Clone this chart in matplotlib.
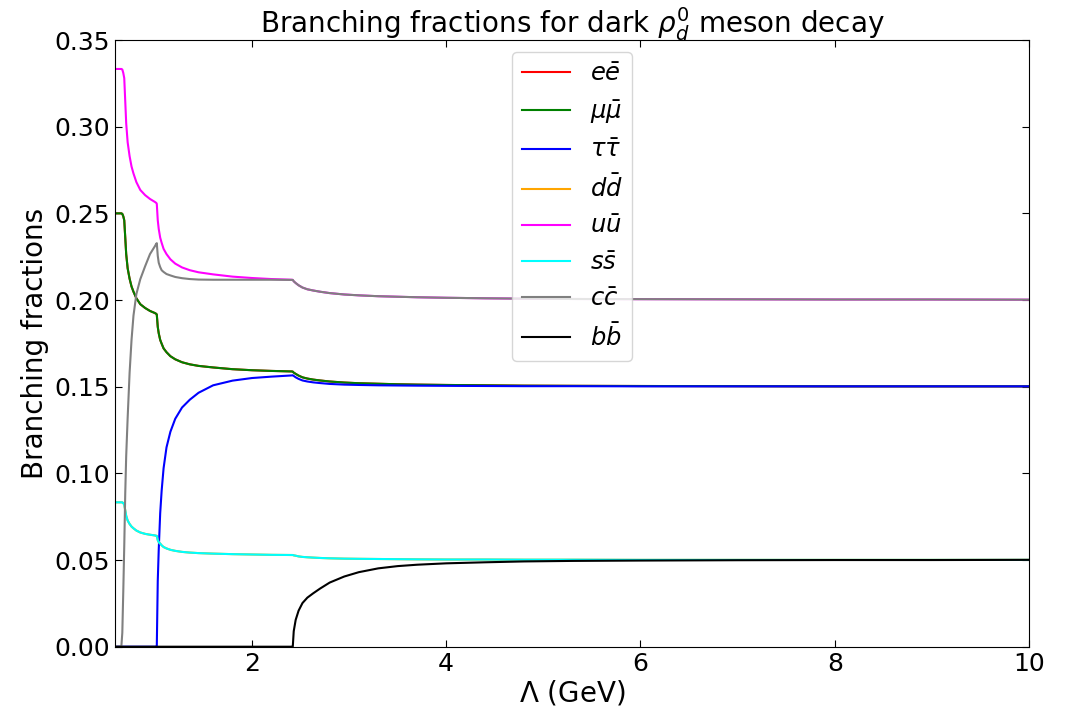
import matplotlib
matplotlib.use("Agg")
import matplotlib.pyplot as plt

# Lambda grid (GeV)
lam = [0.59, 0.655, 0.665, 0.675, 0.685, 0.695, 0.705, 0.72, 0.74, 0.76,
       0.78, 0.81, 0.85, 0.90, 0.95, 1.00, 1.015, 1.02, 1.03, 1.04,
       1.055, 1.07, 1.09, 1.12, 1.16, 1.21, 1.28, 1.36, 1.45, 1.6,
       1.8, 2.0, 2.2, 2.41, 2.42, 2.43, 2.45, 2.48, 2.52, 2.57,
       2.63, 2.7, 2.8, 2.95, 3.1, 3.3, 3.5, 3.7, 4.0, 4.4,
       4.8, 5.3, 6.0, 7.0, 8.0, 9.0, 10.0]

ee = [0.25, 0.25, 0.2497, 0.2483, 0.246, 0.2363, 0.2265, 0.2183, 0.2123, 0.2078,
      0.2048, 0.201, 0.1976, 0.1954, 0.1937, 0.1925, 0.192, 0.1916, 0.1845, 0.1808,
      0.177, 0.1748, 0.1721, 0.1699, 0.1676, 0.1658, 0.1641, 0.1629, 0.162, 0.1611,
      0.1601, 0.1595, 0.1591, 0.1588, 0.1587, 0.1581, 0.1574, 0.1564, 0.1554, 0.1547,
      0.1541, 0.1536, 0.153, 0.1524, 0.152, 0.1517, 0.1514, 0.1512, 0.151, 0.1508,
      0.1506, 0.1505, 0.1504, 0.1503, 0.1502, 0.1502, 0.1502]
mumu = list(ee)  # drawn exactly on top of ee in the picture

tautau = [0, 0, 0, 0, 0, 0, 0, 0, 0, 0,
          0, 0, 0, 0, 0, 0, 0, 0, 0.038, 0.056,
          0.077, 0.090, 0.103, 0.115, 0.124, 0.1315, 0.138, 0.1425, 0.1465, 0.1508,
          0.1535, 0.155, 0.1558, 0.1565, 0.1566, 0.1562, 0.1554, 0.1545, 0.1536, 0.153,
          0.1525, 0.1521, 0.1516, 0.1512, 0.151, 0.1508, 0.1507, 0.1506, 0.1505, 0.1504,
          0.1503, 0.1503, 0.1502, 0.1502, 0.1502, 0.1502, 0.1502]

uu = [0.3333, 0.3333, 0.333, 0.331, 0.328, 0.315, 0.302, 0.291, 0.283, 0.277,
      0.273, 0.268, 0.2635, 0.2605, 0.2583, 0.2566, 0.256, 0.2555, 0.246, 0.241,
      0.236, 0.233, 0.2295, 0.2265, 0.2235, 0.221, 0.2188, 0.2172, 0.216, 0.2148,
      0.2135, 0.2127, 0.2121, 0.2117, 0.2116, 0.2108, 0.2098, 0.2085, 0.2072, 0.2062,
      0.2055, 0.2048, 0.204, 0.2032, 0.2027, 0.2022, 0.2019, 0.2016, 0.2013, 0.201,
      0.2008, 0.2006, 0.2005, 0.2004, 0.2003, 0.2003, 0.2002]

ss = [0.0833, 0.0833, 0.0833, 0.0828, 0.082, 0.0788, 0.0755, 0.0728, 0.0708, 0.0693,
      0.0683, 0.067, 0.0659, 0.0651, 0.0646, 0.0642, 0.064, 0.0639, 0.0615, 0.0603,
      0.0595, 0.0585, 0.0575, 0.0567, 0.0559, 0.0553, 0.0547, 0.0543, 0.054, 0.0537,
      0.0534, 0.0532, 0.053, 0.0529, 0.0529, 0.0527, 0.0525, 0.0521, 0.0518, 0.0516,
      0.0514, 0.0512, 0.051, 0.0508, 0.0507, 0.0506, 0.0505, 0.0504, 0.0503, 0.0503,
      0.0502, 0.0502, 0.0501, 0.0501, 0.0501, 0.0501, 0.0501]
dd = list(ss)  # hidden under ss in the picture

cc = [0, 0, 0.008, 0.032, 0.058, 0.088, 0.110, 0.132, 0.158, 0.177,
      0.191, 0.2035, 0.212, 0.2195, 0.2265, 0.231, 0.2325, 0.2328, 0.2255, 0.2215,
      0.219, 0.2172, 0.2162, 0.215, 0.2142, 0.2133, 0.2126, 0.2121, 0.2118, 0.2117,
      0.2117, 0.2117, 0.2117, 0.2116, 0.2116, 0.2108, 0.2098, 0.2085, 0.2072, 0.2062,
      0.2055, 0.2048, 0.204, 0.2032, 0.2027, 0.2022, 0.2019, 0.2016, 0.2013, 0.201,
      0.2008, 0.2006, 0.2005, 0.2004, 0.2003, 0.2003, 0.2002]

bb = [0, 0, 0, 0, 0, 0, 0, 0, 0, 0,
      0, 0, 0, 0, 0, 0, 0, 0, 0, 0,
      0, 0, 0, 0, 0, 0, 0, 0, 0, 0,
      0, 0, 0, 0, 0, 0.009, 0.0155, 0.0208, 0.0252, 0.0283,
      0.0308, 0.0335, 0.037, 0.0405, 0.043, 0.0452, 0.0465, 0.0473, 0.0481, 0.0487,
      0.0492, 0.0495, 0.0497, 0.0499, 0.05, 0.05, 0.0501]

series = [
    (ee, r'$e\bar{e}$', 'red'),
    (mumu, r'$\mu\bar{\mu}$', 'green'),
    (tautau, r'$\tau\bar{\tau}$', 'blue'),
    (dd, r'$d\bar{d}$', 'orange'),
    (uu, r'$u\bar{u}$', 'magenta'),
    (ss, r'$s\bar{s}$', 'cyan'),
    (cc, r'$c\bar{c}$', 'gray'),
    (bb, r'$b\bar{b}$', 'black'),
]

fig = plt.figure(figsize=(10.68, 7.12), dpi=100)
ax = fig.add_axes([0.1077, 0.0917, 0.8558, 0.8521])

for vals, label, color in series:
    ax.plot(lam, vals, color=color, label=label, lw=1.5)

ax.set_xlim(0.59, 10)
ax.set_ylim(0, 0.35)
ax.set_xticks([2, 4, 6, 8, 10])
ax.set_yticks([0, 0.05, 0.10, 0.15, 0.20, 0.25, 0.30, 0.35])
ax.tick_params(direction='in', top=True, right=True, labelsize=18, length=5)
ax.set_xlabel(r'$\Lambda$ (GeV)', fontsize=20, labelpad=2)
ax.set_ylabel('Branching fractions', fontsize=20)
ax.set_title(r'Branching fractions for dark $\rho_d^0$ meson decay', fontsize=20, pad=5)
ax.legend(loc='upper center', fontsize=17.5)

fig.savefig('out.png', dpi=100)
